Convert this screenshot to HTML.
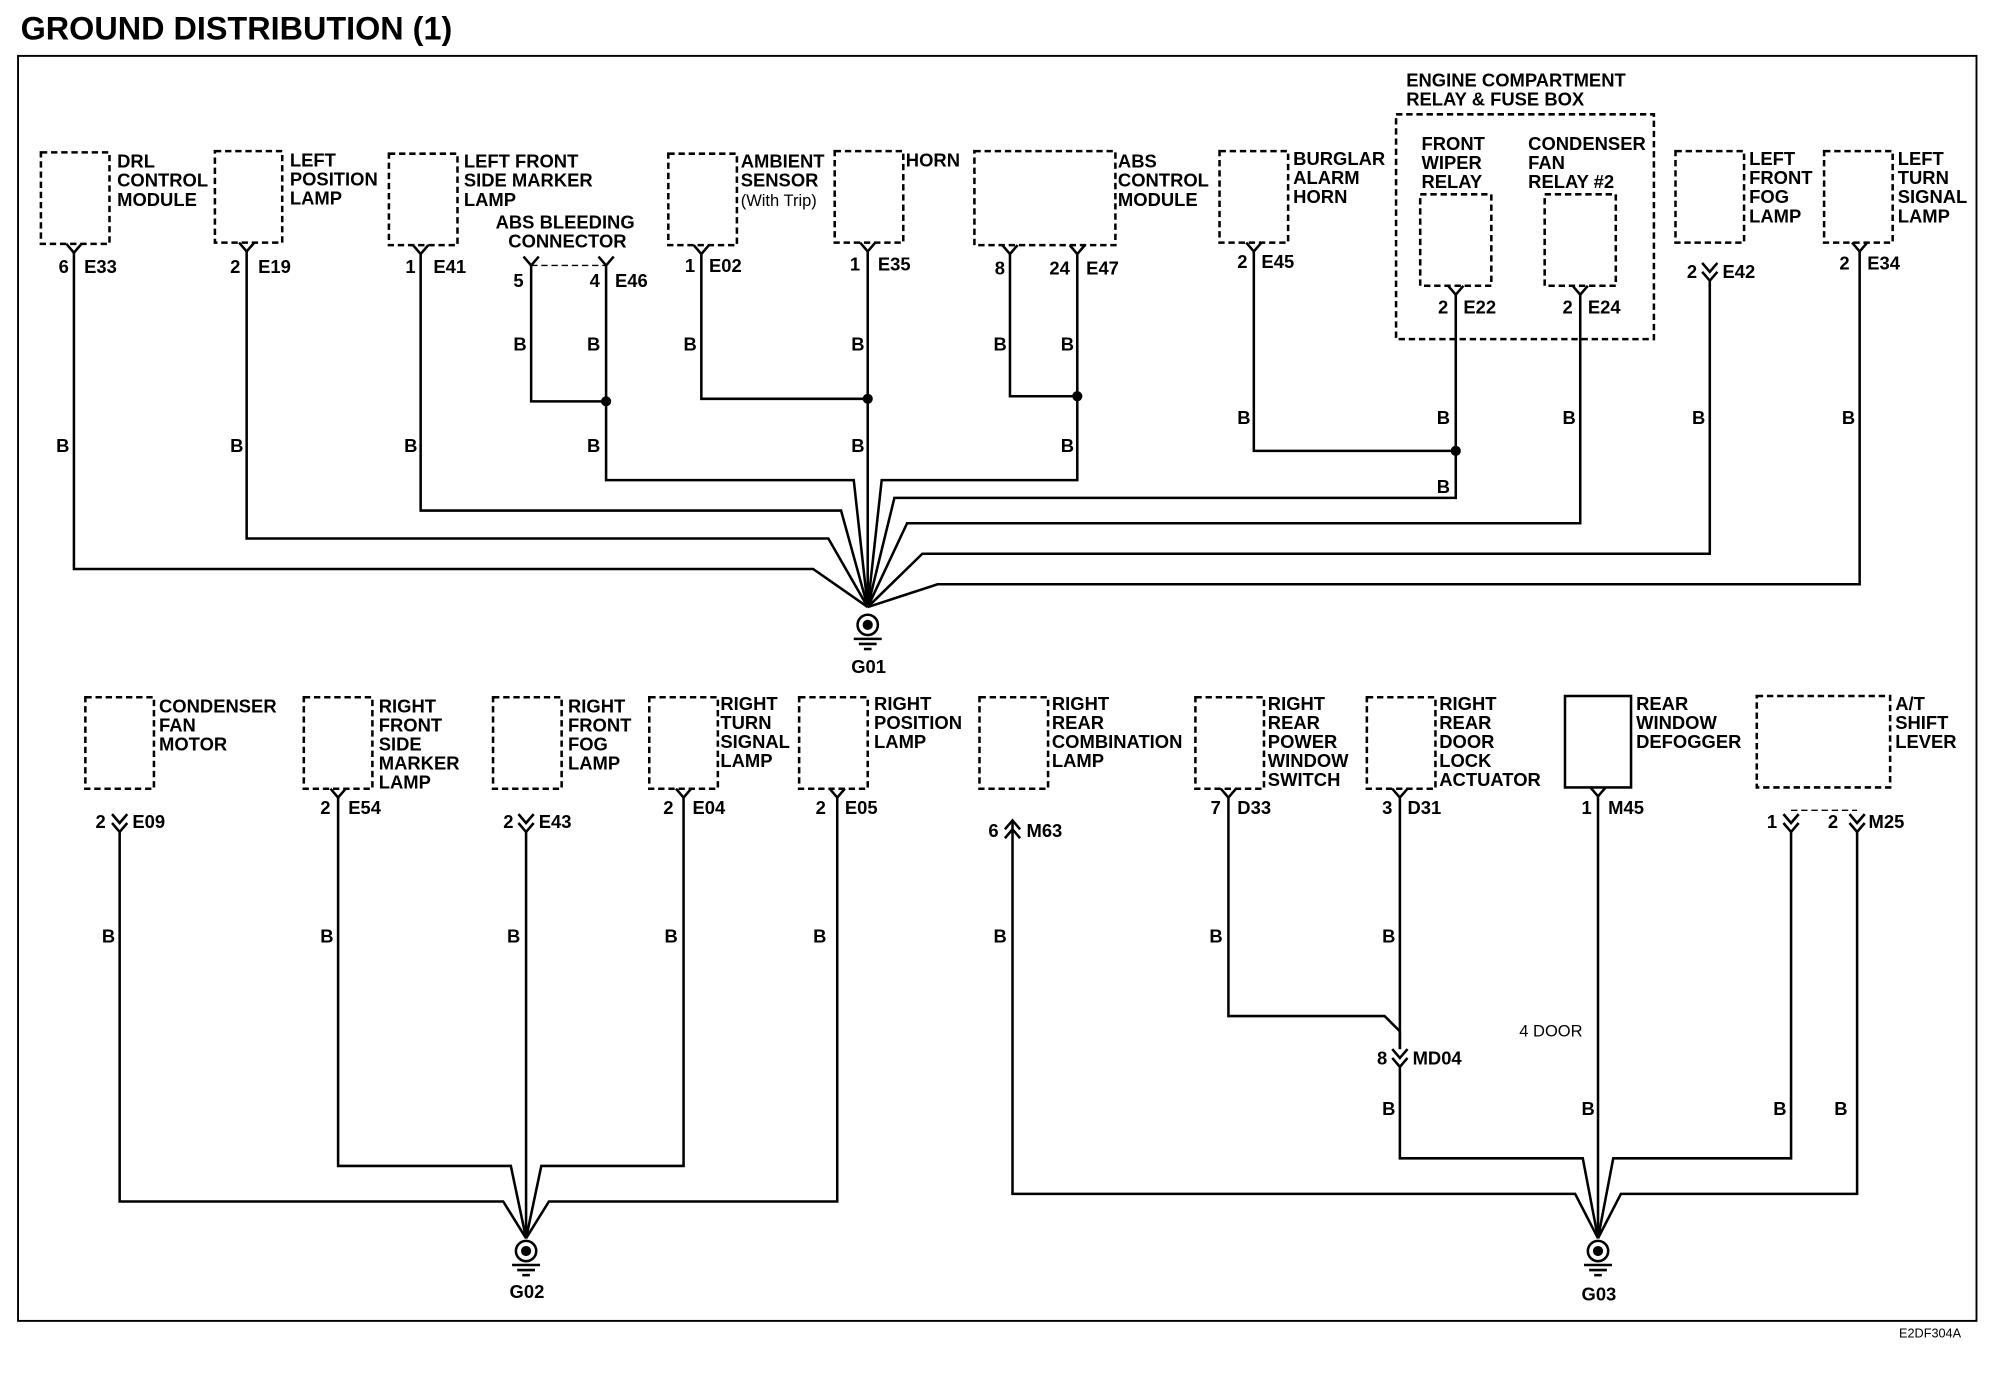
<!DOCTYPE html>
<html><head><meta charset="utf-8"><style>
html,body{margin:0;padding:0;background:#fff}
svg{display:block}
text{font-family:"Liberation Sans",Arial,sans-serif;font-weight:bold;font-size:14.5px;fill:#000}
.w{fill:none;stroke:#000;stroke-width:2}
.d{fill:none;stroke:#000;stroke-width:2;stroke-dasharray:5,3}
.n{font-weight:normal;font-size:13px}
</style></head><body>
<svg width="1992" height="1392" viewBox="0 0 1568 1096" xmlns="http://www.w3.org/2000/svg">
<text x="16" y="31" style="font-size:25.5px">GROUND DISTRIBUTION (1)</text>
<rect x="14" y="44" width="1542" height="996" class="w" style="stroke-width:1.5"/>
<text x="1495" y="1053" style="font-size:10px;font-weight:normal">E2DF304A</text>

<!-- TOP BOXES -->
<rect x="32" y="120" width="54" height="72" class="d"/>
<text x="92" y="132">DRL</text><text x="92" y="147">CONTROL</text><text x="92" y="162">MODULE</text>
<rect x="169" y="119" width="53" height="72" class="d"/>
<text x="228" y="131">LEFT</text><text x="228" y="146">POSITION</text><text x="228" y="161">LAMP</text>
<rect x="306" y="121" width="54" height="72" class="d"/>
<text x="365" y="132">LEFT FRONT</text><text x="365" y="147">SIDE MARKER</text><text x="365" y="162">LAMP</text>
<text x="390" y="180">ABS BLEEDING</text><text x="400" y="195">CONNECTOR</text>
<rect x="526" y="121" width="54" height="72" class="d"/>
<text x="583" y="132">AMBIENT</text><text x="583" y="147">SENSOR</text><text x="583" y="162" class="n">(With Trip)</text>
<rect x="657" y="119" width="54" height="72" class="d"/>
<text x="713" y="131">HORN</text>
<rect x="767" y="119" width="111" height="74" class="d"/>
<text x="880" y="132">ABS</text><text x="880" y="147">CONTROL</text><text x="880" y="162">MODULE</text>
<rect x="960" y="119" width="54" height="72" class="d"/>
<text x="1018" y="130">BURGLAR</text><text x="1018" y="145">ALARM</text><text x="1018" y="160">HORN</text>
<text x="1107" y="68">ENGINE COMPARTMENT</text><text x="1107" y="83">RELAY &amp; FUSE BOX</text>
<rect x="1099" y="90" width="203" height="177" class="d"/>
<text x="1119" y="118">FRONT</text><text x="1119" y="133">WIPER</text><text x="1119" y="148">RELAY</text>
<text x="1203" y="118">CONDENSER</text><text x="1203" y="133">FAN</text><text x="1203" y="148">RELAY #2</text>
<rect x="1118" y="153" width="56" height="72" class="d"/>
<rect x="1216" y="153" width="56" height="72" class="d"/>
<rect x="1319" y="119" width="54" height="72" class="d"/>
<text x="1377" y="130">LEFT</text><text x="1377" y="145">FRONT</text><text x="1377" y="160">FOG</text><text x="1377" y="175">LAMP</text>
<rect x="1436" y="119" width="54" height="72" class="d"/>
<text x="1494" y="130">LEFT</text><text x="1494" y="145">TURN</text><text x="1494" y="160">SIGNAL</text><text x="1494" y="175">LAMP</text>

<!-- top connectors -->
<g class="w">
<path d="M52 192 L58 199 L64 192"/><path d="M188 191 L194 198 L200 191"/><path d="M325 193 L331 200 L337 193"/>
<path d="M412 202 L418 209 L424 202"/><path d="M471 202 L477 209 L483 202"/>
<path d="M546 193 L552 200 L558 193"/><path d="M677 191 L683 198 L689 191"/>
<path d="M789 193 L795 200 L801 193"/><path d="M842 193 L848 200 L854 193"/>
<path d="M981 191 L987 198 L993 191"/><path d="M1140 225 L1146 232 L1152 225"/><path d="M1238 225 L1244 232 L1250 225"/>
<path d="M1340 207 L1346 214 L1352 207"/><path d="M1340 214 L1346 221 L1352 214"/>
<path d="M1458 191 L1464 198 L1470 191"/>
</g>
<line x1="418" y1="209" x2="477" y2="209" class="d" style="stroke-width:1"/>
<text x="46" y="215">6</text><text x="66" y="215">E33</text>
<text x="181" y="215">2</text><text x="203" y="215">E19</text>
<text x="319" y="215">1</text><text x="341" y="215">E41</text>
<text x="404" y="226">5</text><text x="464" y="226">4</text><text x="484" y="226">E46</text>
<text x="539" y="214">1</text><text x="558" y="214">E02</text>
<text x="669" y="213">1</text><text x="691" y="213">E35</text>
<text x="783" y="216">8</text><text x="826" y="216">24</text><text x="855" y="216">E47</text>
<text x="974" y="211">2</text><text x="993" y="211">E45</text>
<text x="1132" y="247">2</text><text x="1152" y="247">E22</text>
<text x="1230" y="247">2</text><text x="1250" y="247">E24</text>
<text x="1328" y="219">2</text><text x="1356" y="219">E42</text>
<text x="1448" y="212">2</text><text x="1470" y="212">E34</text>

<!-- top wires -->
<g class="w">
<path d="M58 199 V448 H640 L683 478"/>
<path d="M194 198 V424 H652 L683 478"/>
<path d="M331 200 V402 H662 L683 478"/>
<path d="M418 209 V316 H477"/><path d="M477 209 V378 H672 L683 478"/>
<path d="M552 200 V314 H683"/><path d="M683 198 V478"/>
<path d="M795 200 V312 H848"/><path d="M848 200 V378 H694 L683 478"/>
<path d="M987 198 V355 H1146"/><path d="M1146 232 V392 H704 L683 478"/>
<path d="M1244 232 V412 H714 L683 478"/>
<path d="M1346 221 V436 H726 L683 478"/>
<path d="M1464 198 V460 H738 L683 478"/>
</g>
<circle cx="477" cy="316" r="4"/><circle cx="683" cy="314" r="4"/><circle cx="848" cy="312" r="4"/><circle cx="1146" cy="355" r="4"/>
<text x="44" y="356">B</text><text x="181" y="356">B</text><text x="318" y="356">B</text>
<text x="404" y="276">B</text><text x="462" y="276">B</text><text x="462" y="356">B</text>
<text x="538" y="276">B</text><text x="670" y="276">B</text><text x="670" y="356">B</text>
<text x="782" y="276">B</text><text x="835" y="276">B</text><text x="835" y="356">B</text>
<text x="974" y="334">B</text><text x="1131" y="334">B</text><text x="1131" y="388">B</text>
<text x="1230" y="334">B</text><text x="1332" y="334">B</text><text x="1450" y="334">B</text>

<g transform="translate(683,492)">
<circle r="8" class="w"/><circle r="4"/><line x1="-11" y1="11" x2="11" y2="11" class="w"/><line x1="-7" y1="15" x2="7" y2="15" class="w"/><line x1="-3" y1="19" x2="3" y2="19" class="w"/>
</g>
<text x="670" y="530">G01</text>

<!-- BOTTOM BOXES -->
<rect x="67" y="549" width="54" height="72" class="d"/>
<text x="125" y="561">CONDENSER</text><text x="125" y="576">FAN</text><text x="125" y="591">MOTOR</text>
<rect x="239" y="549" width="54" height="72" class="d"/>
<text x="298" y="561">RIGHT</text><text x="298" y="576">FRONT</text><text x="298" y="591">SIDE</text><text x="298" y="606">MARKER</text><text x="298" y="621">LAMP</text>
<rect x="388" y="549" width="54" height="72" class="d"/>
<text x="447" y="561">RIGHT</text><text x="447" y="576">FRONT</text><text x="447" y="591">FOG</text><text x="447" y="606">LAMP</text>
<rect x="511" y="549" width="54" height="72" class="d"/>
<text x="567" y="559">RIGHT</text><text x="567" y="574">TURN</text><text x="567" y="589">SIGNAL</text><text x="567" y="604">LAMP</text>
<rect x="629" y="549" width="54" height="72" class="d"/>
<text x="688" y="559">RIGHT</text><text x="688" y="574">POSITION</text><text x="688" y="589">LAMP</text>
<rect x="771" y="549" width="54" height="72" class="d"/>
<text x="828" y="559">RIGHT</text><text x="828" y="574">REAR</text><text x="828" y="589">COMBINATION</text><text x="828" y="604">LAMP</text>
<rect x="941" y="549" width="54" height="72" class="d"/>
<text x="998" y="559">RIGHT</text><text x="998" y="574">REAR</text><text x="998" y="589">POWER</text><text x="998" y="604">WINDOW</text><text x="998" y="619">SWITCH</text>
<rect x="1076" y="549" width="54" height="72" class="d"/>
<text x="1133" y="559">RIGHT</text><text x="1133" y="574">REAR</text><text x="1133" y="589">DOOR</text><text x="1133" y="604">LOCK</text><text x="1133" y="619">ACTUATOR</text>
<rect x="1232" y="548" width="52" height="72" class="w"/>
<text x="1288" y="559">REAR</text><text x="1288" y="574">WINDOW</text><text x="1288" y="589">DEFOGGER</text>
<rect x="1383" y="548" width="105" height="72" class="d"/>
<text x="1492" y="559">A/T</text><text x="1492" y="574">SHIFT</text><text x="1492" y="589">LEVER</text>

<g class="w">
<path d="M88 641 L94 648 L100 641"/><path d="M88 648 L94 655 L100 648"/>
<path d="M260 621 L266 628 L272 621"/>
<path d="M408 641 L414 648 L420 641"/><path d="M408 648 L414 655 L420 648"/>
<path d="M532 621 L538 628 L544 621"/><path d="M653 621 L659 628 L665 621"/>
<path d="M791 653 L797 646 L803 653"/><path d="M791 660 L797 653 L803 660"/>
<path d="M961 621 L967 628 L973 621"/><path d="M1096 621 L1102 628 L1108 621"/>
<path d="M1252 620 L1258 627 L1264 620"/>
<path d="M1404 641 L1410 648 L1416 641"/><path d="M1404 648 L1410 655 L1416 648"/>
<path d="M1456 641 L1462 648 L1468 641"/><path d="M1456 648 L1462 655 L1468 648"/>
<path d="M1096 826 L1102 833 L1108 826"/><path d="M1096 833 L1102 840 L1108 833"/>
</g>
<line x1="1410" y1="638" x2="1462" y2="638" class="d" style="stroke-width:1"/>
<text x="75" y="652">2</text><text x="104" y="652">E09</text>
<text x="252" y="641">2</text><text x="274" y="641">E54</text>
<text x="396" y="652">2</text><text x="424" y="652">E43</text>
<text x="522" y="641">2</text><text x="545" y="641">E04</text>
<text x="642" y="641">2</text><text x="665" y="641">E05</text>
<text x="778" y="659">6</text><text x="808" y="659">M63</text>
<text x="953" y="641">7</text><text x="974" y="641">D33</text>
<text x="1088" y="641">3</text><text x="1108" y="641">D31</text>
<text x="1245" y="641">1</text><text x="1266" y="641">M45</text>
<text x="1391" y="652">1</text><text x="1439" y="652">2</text><text x="1471" y="652">M25</text>
<text x="1084" y="838">8</text><text x="1112" y="838">MD04</text>
<text x="1196" y="816" class="n">4 DOOR</text>

<g class="w">
<path d="M94 655 V946 H396 L414 975"/>
<path d="M266 628 V918 H402 L414 975"/>
<path d="M414 655 V975"/>
<path d="M538 628 V918 H426 L414 975"/>
<path d="M659 628 V946 H432 L414 975"/>
<path d="M797 646 V940 H1240 L1258 975"/>
<path d="M967 628 V800 H1090 L1102 812 V826"/>
<path d="M1102 628 V826"/>
<path d="M1102 840 V912 H1246 L1258 975"/>
<path d="M1258 627 V975"/>
<path d="M1410 655 V912 H1270 L1258 975"/>
<path d="M1462 655 V940 H1276 L1258 975"/>
</g>
<text x="80" y="742">B</text><text x="252" y="742">B</text><text x="399" y="742">B</text><text x="523" y="742">B</text><text x="640" y="742">B</text>
<text x="782" y="742">B</text><text x="952" y="742">B</text><text x="1088" y="742">B</text>
<text x="1088" y="878">B</text><text x="1245" y="878">B</text><text x="1396" y="878">B</text><text x="1444" y="878">B</text>

<g transform="translate(414,985)">
<circle r="8" class="w"/><circle r="4"/><line x1="-11" y1="11" x2="11" y2="11" class="w"/><line x1="-7" y1="15" x2="7" y2="15" class="w"/><line x1="-3" y1="19" x2="3" y2="19" class="w"/>
</g>
<text x="401" y="1022">G02</text>
<g transform="translate(1258,985)">
<circle r="8" class="w"/><circle r="4"/><line x1="-11" y1="11" x2="11" y2="11" class="w"/><line x1="-7" y1="15" x2="7" y2="15" class="w"/><line x1="-3" y1="19" x2="3" y2="19" class="w"/>
</g>
<text x="1245" y="1024">G03</text>
</svg>
</body></html>
